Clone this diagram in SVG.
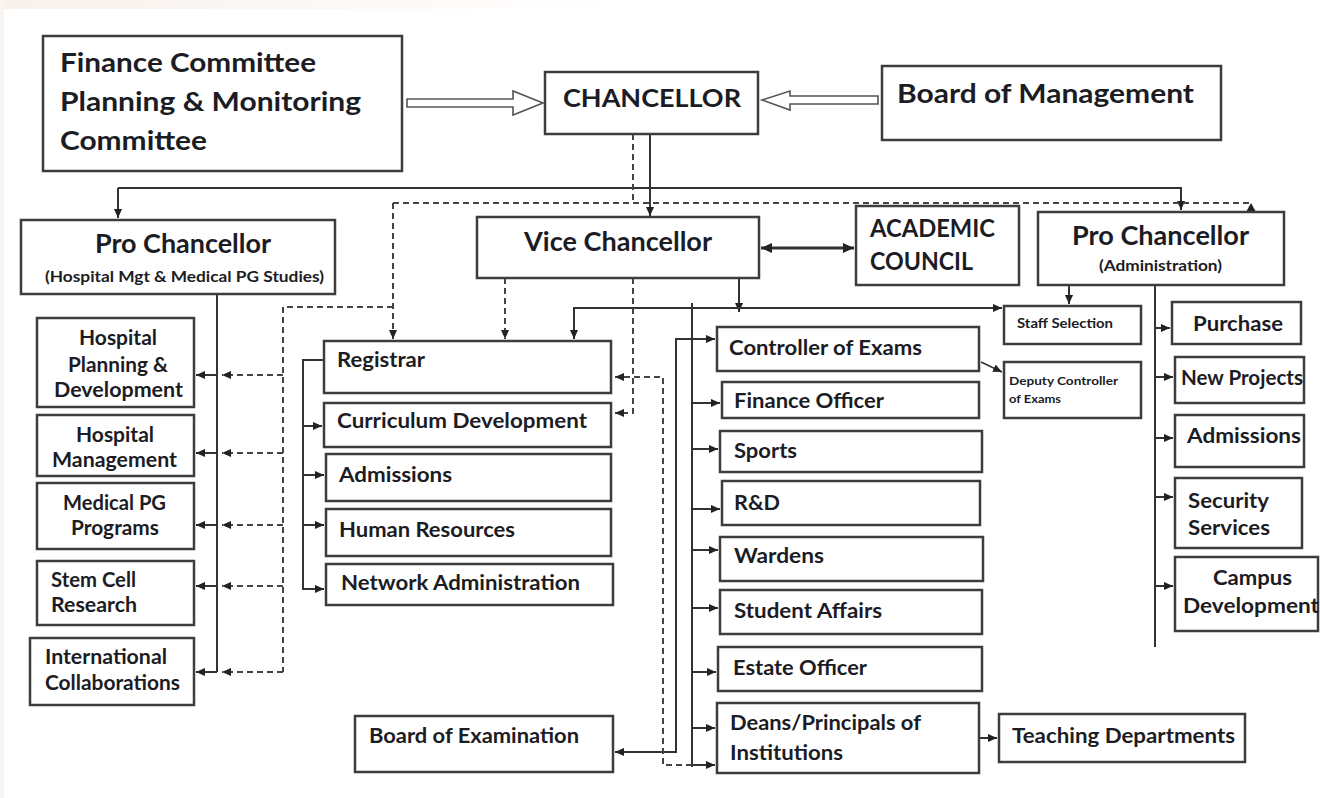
<svg xmlns="http://www.w3.org/2000/svg" width="1320" height="798" viewBox="0 0 1320 798">
<defs>
<style>
.box{fill:#fff;stroke:#3d3d3d;stroke-width:2.5}
text{font-family:Lato,"Open Sans","Liberation Sans",sans-serif;font-weight:700;fill:#1c1c24}
.t27{font-size:27px}.t26{font-size:26px}.t25{font-size:25px}.t21{font-size:21px}.t15{font-size:15px}.t13{font-size:13px}.t12{font-size:12px}
.ln{fill:none;stroke:#333;stroke-width:2}
.ds{fill:none;stroke:#444;stroke-width:2;stroke-dasharray:6 4}
.hollow{fill:#fff;stroke:#555;stroke-width:1.6}
</style>
<marker id="ah" viewBox="0 0 10 10" refX="10" refY="5" markerUnits="userSpaceOnUse" markerWidth="9" markerHeight="9" orient="auto-start-reverse">
<path d="M0,0.5 L10,5 L0,9.5 z" fill="#222"/>
</marker>
<marker id="ahb" viewBox="0 0 10 10" refX="10" refY="5" markerUnits="userSpaceOnUse" markerWidth="11" markerHeight="11" orient="auto-start-reverse">
<path d="M0,0.5 L10,5 L0,9.5 z" fill="#222"/>
</marker>
<linearGradient id="tg" x1="0" y1="0" x2="1" y2="0">
<stop offset="0" stop-color="#f8f1ec"/><stop offset="1" stop-color="#ffffff"/>
</linearGradient>
</defs>
<rect x="0" y="0" width="1320" height="798" fill="#fff"/>
<rect x="0" y="0" width="620" height="9" fill="url(#tg)"/>
<rect x="0" y="0" width="4" height="798" fill="#faf4f0"/>

<g id="connectors">
<polygon class="hollow" points="407,99 513,99 513,91 543,103 513,115 513,107 407,107"/>
<polygon class="hollow" points="878,96 790,96 790,91 762,100 790,110 790,104 878,104"/>
<path class="ln" d="M650,134 V216" marker-end="url(#ah)"/>
<path class="ln" d="M118,188 H1181 V210" marker-end="url(#ah)"/>
<path class="ln" d="M118,188 V218" marker-end="url(#ah)"/>
<path class="ln" style="stroke-width:3" d="M761,248 H854" marker-start="url(#ahb)" marker-end="url(#ahb)"/>
<path class="ln" d="M739,278 V312" marker-end="url(#ah)"/>
<path class="ln" d="M574,339 V308 H1002" marker-start="url(#ah)" marker-end="url(#ah)"/>
<path class="ln" d="M692,303 V767"/>
<path class="ln" d="M692,339 H715" marker-end="url(#ah)"/>
<path class="ln" d="M692,403 H720" marker-end="url(#ah)"/>
<path class="ln" d="M692,449 H718" marker-end="url(#ah)"/>
<path class="ln" d="M692,509 H720" marker-end="url(#ah)"/>
<path class="ln" d="M692,550 H718" marker-end="url(#ah)"/>
<path class="ln" d="M692,608 H718" marker-end="url(#ah)"/>
<path class="ln" d="M692,672 H716" marker-end="url(#ah)"/>
<path class="ln" d="M692,728 H715" marker-end="url(#ah)"/>
<path class="ln" d="M692,765 H715" marker-end="url(#ah)"/>
<path class="ln" d="M692,339 H676 V752 H615" marker-end="url(#ah)"/>
<path class="ln" style="stroke-width:1.5" d="M981,362 L1002,372" marker-end="url(#ah)"/>
<path class="ln" d="M979,738 H997" marker-end="url(#ah)"/>
<path class="ln" d="M1069,285 V304" marker-end="url(#ah)"/>
<path class="ln" d="M1155,285 V647"/>
<path class="ln" d="M1155,328 H1170" marker-end="url(#ah)"/>
<path class="ln" d="M1155,377 H1173" marker-end="url(#ah)"/>
<path class="ln" d="M1155,438 H1173" marker-end="url(#ah)"/>
<path class="ln" d="M1155,497 H1173" marker-end="url(#ah)"/>
<path class="ln" d="M1155,586 H1173" marker-end="url(#ah)"/>
<path class="ln" d="M217,294 V672"/>
<path class="ln" d="M217,375 H196" marker-end="url(#ah)"/>
<path class="ln" d="M217,453 H196" marker-end="url(#ah)"/>
<path class="ln" d="M217,525 H196" marker-end="url(#ah)"/>
<path class="ln" d="M217,586 H196" marker-end="url(#ah)"/>
<path class="ln" d="M217,672 H196" marker-end="url(#ah)"/>
<path class="ln" d="M324,360 H303 V589 H324" marker-end="url(#ah)"/>
<path class="ln" d="M303,426 H322" marker-end="url(#ah)"/>
<path class="ln" d="M303,475 H324" marker-end="url(#ah)"/>
<path class="ln" d="M303,525 H324" marker-end="url(#ah)"/>
<path class="ds" d="M633,134 V203"/>
<path class="ds" d="M393,203 V339" marker-end="url(#ah)"/>
<path class="ds" d="M393,203 H1251 V210"/>
<polygon points="1246,212 1256,212 1251,203" fill="#222"/>
<path class="ds" d="M393,307 H283 V672"/>
<path class="ds" d="M283,375 H222" marker-end="url(#ah)"/>
<path class="ds" d="M283,453 H222" marker-end="url(#ah)"/>
<path class="ds" d="M283,525 H222" marker-end="url(#ah)"/>
<path class="ds" d="M283,586 H222" marker-end="url(#ah)"/>
<path class="ds" d="M283,672 H222" marker-end="url(#ah)"/>
<path class="ds" d="M505,278 V339" marker-end="url(#ah)"/>
<path class="ds" d="M633,278 V413 H615" marker-end="url(#ah)"/>
<path class="ds" d="M692,765 H663 V377 H615" marker-end="url(#ah)"/>
</g>

<g id="finance"><rect class="box" x="43" y="36" width="359" height="135"/>
<text class="t27" x="60" y="72" textLength="256" lengthAdjust="spacingAndGlyphs">Finance Committee</text>
<text class="t27" x="60" y="111" textLength="301" lengthAdjust="spacingAndGlyphs">Planning &amp; Monitoring</text>
<text class="t27" x="60" y="150" textLength="147" lengthAdjust="spacingAndGlyphs">Committee</text></g>
<g id="chancellor"><rect class="box" x="545" y="72" width="213" height="62"/>
<text class="t25" x="563" y="107" textLength="178" lengthAdjust="spacingAndGlyphs">CHANCELLOR</text></g>
<g id="board"><rect class="box" x="882" y="66" width="339" height="74"/>
<text class="t27" x="897" y="103" textLength="297" lengthAdjust="spacingAndGlyphs">Board of Management</text></g>
<g id="pro-chancellor-hospital"><rect class="box" x="21" y="220" width="314" height="74"/>
<text class="t26" x="95" y="253" textLength="176" lengthAdjust="spacingAndGlyphs">Pro Chancellor</text>
<text class="t15" x="45" y="282" textLength="279" lengthAdjust="spacingAndGlyphs">(Hospital Mgt &amp; Medical PG Studies)</text></g>
<g id="vice-chancellor"><rect class="box" x="477" y="217" width="282" height="61"/>
<text class="t26" x="524" y="251" textLength="188" lengthAdjust="spacingAndGlyphs">Vice Chancellor</text></g>
<g id="academic-council"><rect class="box" x="856" y="206" width="163" height="79"/>
<text class="t25" x="870" y="237" textLength="125" lengthAdjust="spacingAndGlyphs">ACADEMIC</text>
<text class="t25" x="870" y="270" textLength="103" lengthAdjust="spacingAndGlyphs">COUNCIL</text></g>
<g id="pro-chancellor-admin"><rect class="box" x="1038" y="212" width="246" height="73"/>
<text class="t26" x="1072" y="245" textLength="177" lengthAdjust="spacingAndGlyphs">Pro Chancellor</text>
<text class="t15" x="1099" y="271" textLength="123" lengthAdjust="spacingAndGlyphs">(Administration)</text></g>

<g id="hospital-planning"><rect class="box" x="37" y="318" width="157" height="89"/>
<text class="t21" x="79" y="345" textLength="78" lengthAdjust="spacingAndGlyphs">Hospital</text>
<text class="t21" x="68" y="372" textLength="100" lengthAdjust="spacingAndGlyphs">Planning &amp;</text>
<text class="t21" x="54" y="397" textLength="129" lengthAdjust="spacingAndGlyphs">Development</text></g>
<g id="hospital-management"><rect class="box" x="37" y="415" width="157" height="61"/>
<text class="t21" x="76" y="442" textLength="78" lengthAdjust="spacingAndGlyphs">Hospital</text>
<text class="t21" x="52" y="467" textLength="125" lengthAdjust="spacingAndGlyphs">Management</text></g>
<g id="medical-pg"><rect class="box" x="37" y="483" width="157" height="66"/>
<text class="t21" x="63" y="510" textLength="103" lengthAdjust="spacingAndGlyphs">Medical PG</text>
<text class="t21" x="71" y="535" textLength="88" lengthAdjust="spacingAndGlyphs">Programs</text></g>
<g id="stem-cell"><rect class="box" x="37" y="561" width="157" height="64"/>
<text class="t21" x="51" y="587" textLength="85" lengthAdjust="spacingAndGlyphs">Stem Cell</text>
<text class="t21" x="51" y="612" textLength="86" lengthAdjust="spacingAndGlyphs">Research</text></g>
<g id="international"><rect class="box" x="30" y="638" width="164" height="67"/>
<text class="t21" x="45" y="664" textLength="122" lengthAdjust="spacingAndGlyphs">International</text>
<text class="t21" x="45" y="690" textLength="135" lengthAdjust="spacingAndGlyphs">Collaborations</text></g>

<g id="registrar"><rect class="box" x="324" y="341" width="287" height="52"/>
<text class="t21" x="337" y="367" textLength="88" lengthAdjust="spacingAndGlyphs">Registrar</text></g>
<g id="curriculum"><rect class="box" x="324" y="403" width="287" height="44"/>
<text class="t21" x="337" y="428" textLength="250" lengthAdjust="spacingAndGlyphs">Curriculum Development</text></g>
<g id="admissions-reg"><rect class="box" x="326" y="454" width="285" height="47"/>
<text class="t21" x="339" y="482" textLength="113" lengthAdjust="spacingAndGlyphs">Admissions</text></g>
<g id="human-resources"><rect class="box" x="326" y="509" width="285" height="47"/>
<text class="t21" x="339" y="537" textLength="176" lengthAdjust="spacingAndGlyphs">Human Resources</text></g>
<g id="network-admin"><rect class="box" x="326" y="564" width="287" height="41"/>
<text class="t21" x="341" y="590" textLength="239" lengthAdjust="spacingAndGlyphs">Network Administration</text></g>
<g id="board-exam"><rect class="box" x="355" y="716" width="258" height="56"/>
<text class="t21" x="369" y="743" textLength="210" lengthAdjust="spacingAndGlyphs">Board of Examination</text></g>

<g id="controller"><rect class="box" x="717" y="327" width="262" height="44"/>
<text class="t21" x="729" y="355" textLength="193" lengthAdjust="spacingAndGlyphs">Controller of Exams</text></g>
<g id="finance-officer"><rect class="box" x="722" y="382" width="257" height="36"/>
<text class="t21" x="734" y="408" textLength="150" lengthAdjust="spacingAndGlyphs">Finance Officer</text></g>
<g id="sports"><rect class="box" x="720" y="431" width="262" height="41"/>
<text class="t21" x="734" y="458" textLength="63" lengthAdjust="spacingAndGlyphs">Sports</text></g>
<g id="rd"><rect class="box" x="722" y="481" width="258" height="44"/>
<text class="t21" x="734" y="510" textLength="46" lengthAdjust="spacingAndGlyphs">R&amp;D</text></g>
<g id="wardens"><rect class="box" x="720" y="537" width="263" height="44"/>
<text class="t21" x="734" y="563" textLength="90" lengthAdjust="spacingAndGlyphs">Wardens</text></g>
<g id="student-affairs"><rect class="box" x="720" y="590" width="262" height="44"/>
<text class="t21" x="734" y="618" textLength="148" lengthAdjust="spacingAndGlyphs">Student Affairs</text></g>
<g id="estate-officer"><rect class="box" x="718" y="647" width="264" height="44"/>
<text class="t21" x="733" y="675" textLength="134" lengthAdjust="spacingAndGlyphs">Estate Officer</text></g>
<g id="deans"><rect class="box" x="717" y="703" width="262" height="70"/>
<text class="t21" x="730" y="730" textLength="191" lengthAdjust="spacingAndGlyphs">Deans/Principals of</text>
<text class="t21" x="730" y="760" textLength="113" lengthAdjust="spacingAndGlyphs">Institutions</text></g>
<g id="teaching"><rect class="box" x="999" y="714" width="246" height="48"/>
<text class="t21" x="1012" y="743" textLength="223" lengthAdjust="spacingAndGlyphs">Teaching Departments</text></g>

<g id="staff-selection"><rect class="box" x="1004" y="306" width="137" height="38"/>
<text class="t13" x="1017" y="328" textLength="96" lengthAdjust="spacingAndGlyphs">Staff Selection</text></g>
<g id="deputy-controller"><rect class="box" x="1004" y="362" width="137" height="56"/>
<text class="t12" x="1009" y="385" textLength="109" lengthAdjust="spacingAndGlyphs">Deputy Controller</text>
<text class="t12" x="1009" y="403" textLength="52" lengthAdjust="spacingAndGlyphs">of Exams</text></g>
<g id="purchase"><rect class="box" x="1172" y="302" width="129" height="42"/>
<text class="t21" x="1193" y="331" textLength="90" lengthAdjust="spacingAndGlyphs">Purchase</text></g>
<g id="new-projects"><rect class="box" x="1175" y="357" width="129" height="46"/>
<text class="t21" x="1181" y="385" textLength="122" lengthAdjust="spacingAndGlyphs">New Projects</text></g>
<g id="admissions-admin"><rect class="box" x="1175" y="415" width="129" height="52"/>
<text class="t21" x="1187" y="443" textLength="114" lengthAdjust="spacingAndGlyphs">Admissions</text></g>
<g id="security"><rect class="box" x="1175" y="478" width="127" height="70"/>
<text class="t21" x="1188" y="508" textLength="81" lengthAdjust="spacingAndGlyphs">Security</text>
<text class="t21" x="1188" y="535" textLength="82" lengthAdjust="spacingAndGlyphs">Services</text></g>
<g id="campus"><rect class="box" x="1175" y="557" width="143" height="74"/>
<text class="t21" x="1213" y="585" textLength="79" lengthAdjust="spacingAndGlyphs">Campus</text>
<text class="t21" x="1183" y="613" textLength="136" lengthAdjust="spacingAndGlyphs">Development</text></g>
</svg>
